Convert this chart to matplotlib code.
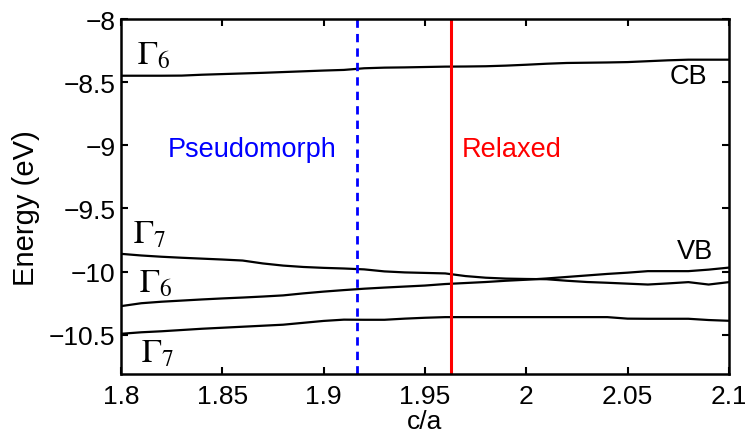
import matplotlib
matplotlib.use("Agg")
import matplotlib.pyplot as plt

plt.rcParams['font.family'] = ['Liberation Sans', 'DejaVu Sans']
plt.rcParams['mathtext.fontset'] = 'stix'

# c/a grid
ca = [1.80, 1.81, 1.82, 1.83, 1.84, 1.85, 1.86, 1.87, 1.88, 1.89, 1.90,
      1.91, 1.92, 1.93, 1.94, 1.95, 1.96, 1.97, 1.98, 1.99, 2.00,
      2.01, 2.02, 2.03, 2.04, 2.05, 2.06, 2.07, 2.08, 2.09, 2.10]

# conduction band (Gamma6)
cb = [-8.449, -8.449, -8.449, -8.448, -8.441, -8.436, -8.431, -8.426, -8.420, -8.414, -8.408,
      -8.403, -8.390, -8.385, -8.383, -8.380, -8.377, -8.376, -8.374, -8.369, -8.362,
      -8.354, -8.348, -8.346, -8.344, -8.341, -8.334, -8.327, -8.322, -8.322, -8.322]

# valence bands
vb_g7_top = [-9.859, -9.872, -9.882, -9.890, -9.897, -9.904, -9.912, -9.935, -9.952, -9.963, -9.970,
             -9.975, -9.982, -9.998, -10.006, -10.010, -10.014, -10.035, -10.048, -10.055, -10.058,
             -10.060, -10.072, -10.082, -10.088, -10.095, -10.102, -10.093, -10.083, -10.102, -10.083]
vb_g6 = [-10.273, -10.250, -10.238, -10.229, -10.220, -10.212, -10.205, -10.197, -10.188, -10.172, -10.158,
         -10.146, -10.135, -10.126, -10.118, -10.110, -10.098, -10.090, -10.082, -10.072, -10.064,
         -10.054, -10.042, -10.030, -10.018, -10.008, -9.996, -9.996, -9.996, -9.984, -9.968]
vb_g7_low = [-10.492, -10.480, -10.472, -10.462, -10.452, -10.444, -10.436, -10.428, -10.420, -10.405, -10.390,
             -10.380, -10.381, -10.381, -10.372, -10.365, -10.360, -10.360, -10.360, -10.360, -10.360,
             -10.360, -10.360, -10.360, -10.360, -10.372, -10.373, -10.373, -10.373, -10.383, -10.389]

ca_pseudo = 1.9165
ca_relaxed = 1.963

xticks = [1.8, 1.85, 1.9, 1.95, 2, 2.05, 2.1]
xticklabels = ['1.8', '1.85', '1.9', '1.95', '2', '2.05', '2.1']
yticks = [-10.5, -10, -9.5, -9, -8.5, -8]
yticklabels = ['\u221210.5', '\u221210', '\u22129.5', '\u22129', '\u22128.5', '\u22128']

fig = plt.figure(figsize=(7.45, 4.35), dpi=100)
ax = fig.add_axes([0.1624, 0.138, 0.816, 0.816])

for band in [cb, vb_g7_top, vb_g6, vb_g7_low]:
    ax.plot(ca, band, color='black', lw=1.6)

ax.axvline(ca_pseudo, color='#0000ff', lw=2, ls=(0, (3, 2.2)))
ax.axvline(ca_relaxed, color='#ff0000', lw=2.2)

ax.set_xlim(1.8, 2.1)
ax.set_ylim(-10.81, -8)
ax.set_xticks(xticks)
ax.set_xticklabels(xticklabels)
ax.set_yticks(yticks)
ax.set_yticklabels(yticklabels)
ax.tick_params(direction='in', length=5, width=1.5, top=True, right=True, labelsize=19)
ax.tick_params(axis='x', pad=7)
ax.tick_params(axis='y', pad=4)
for s in ax.spines.values():
    s.set_linewidth(1.8)

ax.set_xlabel('c/a', fontsize=19)
ax.xaxis.set_label_coords(0.499, -0.098)
ax.set_ylabel('Energy (eV)', fontsize=21)
ax.yaxis.set_label_coords(-0.133, 0.47)

ax.text(1.823, -9.03, 'Pseudomorph', color='#0000ff', fontsize=19.5, va='center')
ax.text(1.968, -9.03, 'Relaxed', color='#ff0000', fontsize=19.5, va='center')
ax.text(2.080, -8.455, 'CB', fontsize=19.5, ha='center', va='center')
ax.text(2.083, -9.84, 'VB', fontsize=19.5, ha='center', va='center')

gkw = dict(fontsize=24, ha='left', va='center')
ax.text(1.808, -8.285, r'$\Gamma_6$', **gkw)
ax.text(1.806, -9.70, r'$\Gamma_7$', **gkw)
ax.text(1.809, -10.089, r'$\Gamma_6$', **gkw)
ax.text(1.810, -10.642, r'$\Gamma_7$', **gkw)

fig.savefig('out.png', dpi=100)
